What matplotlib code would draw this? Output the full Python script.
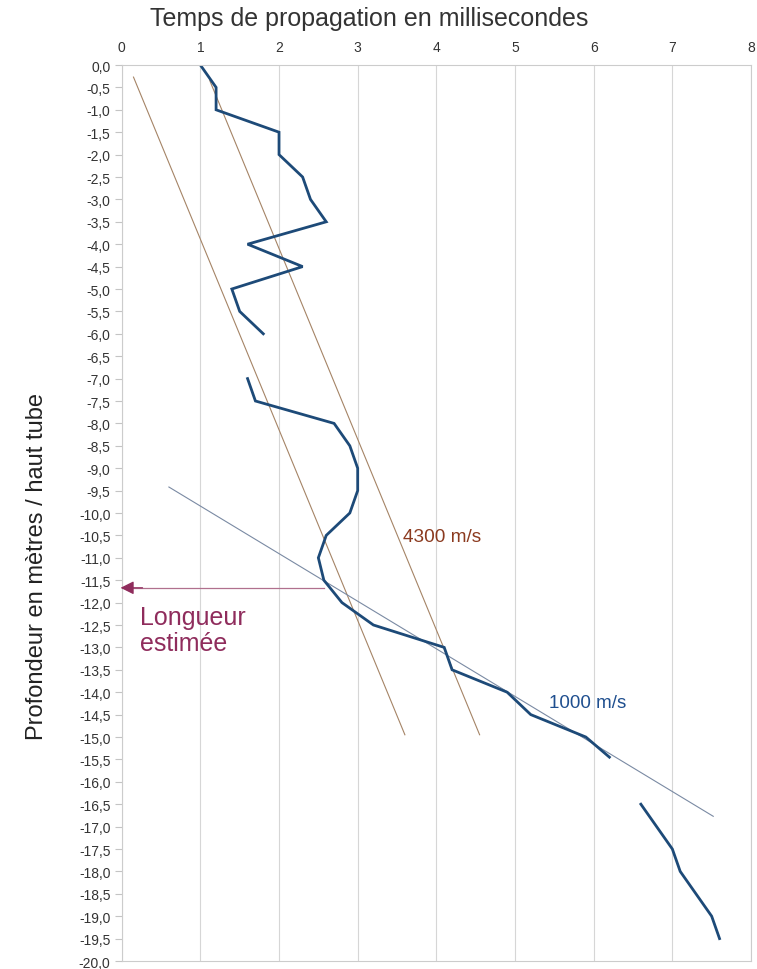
import numpy as np
import matplotlib
matplotlib.use("Agg")
import matplotlib.pyplot as plt
from matplotlib.ticker import FuncFormatter

plt.rcParams["font.family"] = ["Liberation Sans", "DejaVu Sans"]

# measured profile (time in ms vs depth in m), three separate pieces
t1 = [1.0, 1.2, 1.2, 2.0, 2.0, 2.3, 2.4, 2.6, 1.6, 2.3, 1.4, 1.5, 1.8]
d1 = [0.0, -0.5, -1.0, -1.5, -2.0, -2.5, -3.0, -3.5, -4.0, -4.5, -5.0, -5.5, -6.0]
t2 = [1.6, 1.7, 2.7, 2.9, 3.0, 3.0, 2.9, 2.6, 2.5, 2.57, 2.8, 3.2, 4.1, 4.2, 4.9, 5.2, 5.9, 6.2]
d2 = [-7.0, -7.5, -8.0, -8.5, -9.0, -9.5, -10.0, -10.5, -11.0, -11.5, -12.0, -12.5,
      -13.0, -13.5, -14.0, -14.5, -15.0, -15.45]
t3 = [6.6, 7.0, 7.1, 7.5, 7.6]
d3 = [-16.5, -17.5, -18.0, -19.0, -19.5]

# velocity guide lines (start / end points)
v4300_a_t = [0.15, 3.6]
v4300_a_d = [-0.27, -14.95]
v4300_b_t = [1.12, 4.55]
v4300_b_d = [-0.35, -14.95]
v1000_t = [0.6, 7.52]
v1000_d = [-9.42, -16.77]

# estimated length
est_depth = -11.67
est_t = [2.57, -0.05]

BLUE = "#1d4a78"
BROWN = "#a58466"
GREYBLUE = "#7a8aa3"
MAROON = "#8f2c5c"

fig = plt.figure(figsize=(7.57, 9.70), dpi=100)
ax = fig.add_axes([121.7/757, 1 - 962/970, (751 - 121.7)/757, 896/970])

ax.plot(v4300_a_t, v4300_a_d, color=BROWN, lw=0.8)
ax.plot(v4300_b_t, v4300_b_d, color=BROWN, lw=0.8)
ax.plot(v1000_t, v1000_d, color=GREYBLUE, lw=0.8)

for t, d in ((t1, d1), (t2, d2), (t3, d3)):
    ax.plot(t, d, color=BLUE, lw=2.0, solid_joinstyle="miter")

ax.plot([est_t[0], 0.05], [est_depth, est_depth], color="#b0708e", lw=0.9)
ax.annotate("", xy=(est_t[1], est_depth), xytext=(0.3, est_depth),
            arrowprops=dict(arrowstyle="-|>,head_length=0.8,head_width=0.4",
                            mutation_scale=10, color=MAROON, lw=0.9),
            annotation_clip=False)

ax.text(0.23, -12.05, "Longueur\nestimée", color=MAROON, fontsize=18,
        va="top", ha="left", linespacing=1.1)
ax.text(3.58, -10.53, "4300 m/s", color="#8b3a1f", fontsize=13.7, va="center", ha="left")
ax.text(5.43, -14.22, "1000 m/s", color="#1f4f8f", fontsize=13.5, va="center", ha="left")

ax.set_xlim(0, 8)
ax.set_ylim(-20, 0)
ax.set_xticks(range(0, 9))
ax.set_yticks(np.arange(-20, 0.01, 0.5))
ax.yaxis.set_major_formatter(FuncFormatter(lambda v, p: f"{v:.1f}".replace(".", ",")))
ax.xaxis.tick_top()
ax.tick_params(axis="x", length=0, pad=8, labelsize=10, labelcolor="#333333")
ax.tick_params(axis="y", length=5, width=0.8, color="#c4c4c4", pad=3,
               labelsize=10, labelcolor="#333333")
ax.grid(axis="x", color="#d6d6d6", lw=0.8)
for s in ax.spines.values():
    s.set_color("#cccccc")
    s.set_linewidth(0.8)

fig.text(150/757, 1 - 19/970, "Temps de propagation en millisecondes",
         fontsize=18, color="#333333", ha="left", va="center")
fig.text(37/757, 1 - 566/970, "Profondeur en mètres / haut tube",
         fontsize=17, color="#222222", rotation=90, ha="center", va="center")

fig.savefig("out.png", dpi=100)
